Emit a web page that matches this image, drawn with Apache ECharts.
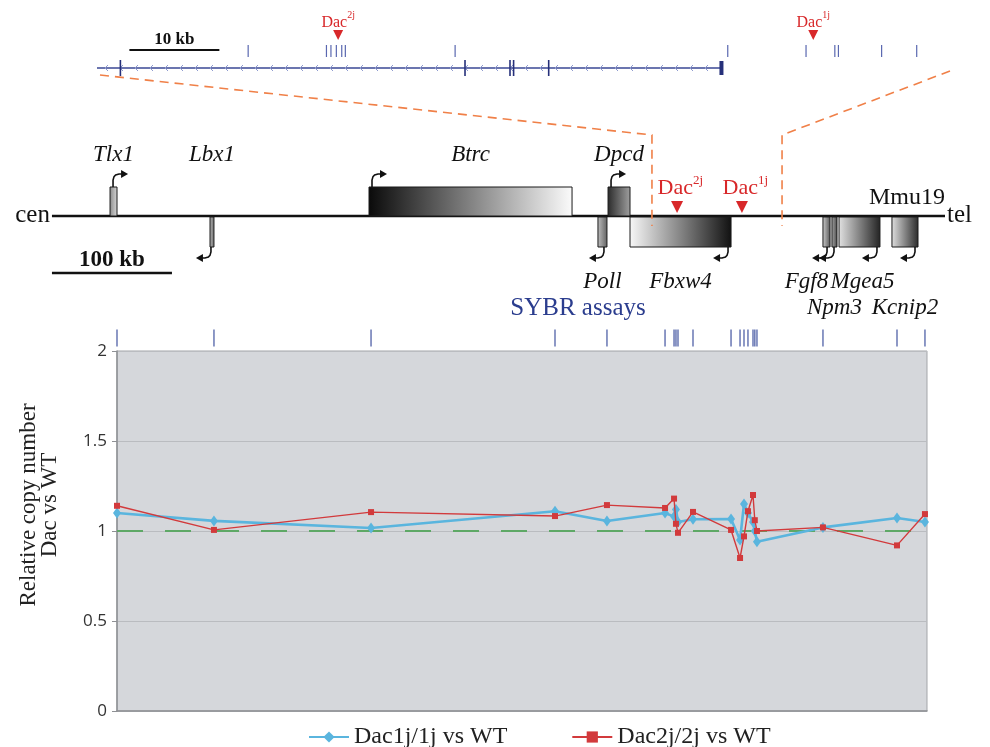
<!DOCTYPE html>
<html>
<head>
<meta charset="utf-8">
<script src="https://cdn.jsdelivr.net/npm/echarts@6.0.0/dist/echarts.min.js"></script>
<style>html,body{margin:0;padding:0;background:#fff;}#chart{width:990px;height:747px;}</style>
</head>
<body>
<div id="chart"></div>
<script>
// ---------------- data ----------------
const seriesNames = ['Dac1j/1j vs WT', 'Dac2j/2j vs WT'];
// SYBR assay positions along the locus (kb from first assay)
const assayKb = [0, 80.8, 211.7, 365, 408.3, 456.7, 464.2, 465.8, 467.5, 480, 511.7, 519.2, 522.5, 525.8, 530, 531.5, 533.3, 588.3, 650, 673.3];
const dac1j   = [1.10, 1.056, 1.017, 1.11, 1.056, 1.10, 1.08, 1.12, 1.05, 1.065, 1.067, 0.95, 1.15, 1.10, 1.05, 1.00, 0.94, 1.02, 1.072, 1.05];
const dac2j   = [1.14, 1.006, 1.105, 1.083, 1.144, 1.128, 1.18, 1.04, 0.99, 1.106, 1.006, 0.85, 0.97, 1.11, 1.2, 1.06, 1.0, 1.02, 0.92, 1.094];
const wtLevel = 1;
const yTicks  = [0, 0.5, 1, 1.5, 2];
const xRangeKb = [0, 675];

// locus map (kb, same scale as the assay axis)
const geneNames  = ['Tlx1', 'Lbx1', 'Btrc', 'Dpcd', 'Poll', 'Fbxw4', 'Fgf8', 'Npm3', 'Mgea5', 'Kcnip2'];
const geneStart  = [-5.8, 77.5, 210.0, 409.2, 400.8, 427.5, 588.3, 595.8, 601.7, 645.8];
const geneEnd    = [0.0, 80.8, 379.2, 427.5, 408.3, 511.7, 594.2, 600.0, 635.8, 667.5];
const geneStrand = [1, -1, 1, 1, -1, -1, -1, -1, -1, -1];
const chromExtentKb = [-54.2, 690];
const dacAlleles = ['2j', '1j'];
const dacMainKb  = [466.7, 520.8];
const zoomWindowKb = [445.8, 554.2];
const scaleBarKb = [-54.2, 45.8];   // 100 kb

// zoomed Fbxw4 region (local kb)
const topRangeKb = [0, 94.8];
const fbxw4ExtentKb = [0, 69.4];
const fbxw4ExonKb = [2.6, 40.9, 45.9, 46.3, 50.2, 69.4];
const topAssayKb = [16.8, 25.5, 26.0, 26.6, 27.2, 27.6, 39.8, 70.1, 78.8, 82.0, 82.4, 87.2, 91.1];
const dacLocalKb = [26.8, 79.6];
const topScaleKb = [3.6, 13.6];     // 10 kb

// ---------------- layout / look ----------------
const MAIN = {left: 117, top: 351, width: 810, height: 360};
const GENE = {left: 117, top: 116, width: 810, height: 100};
const TOP  = {left: 97, top: 20, width: 853, height: 48};
const SERIF = '"Liberation Serif", "Times New Roman", serif';
const RED = '#d8282a';

const geneLook = {
  Tlx1:   {c: ['#8a8a8a', '#d8d8d8'], row: 0},
  Lbx1:   {c: ['#b0b0b0', '#707070'], row: 0},
  Btrc:   {c: ['#0a0a0a', '#fbfbfb'], row: 0},
  Dpcd:   {c: ['#2a2a2a', '#a0a0a0'], row: 0},
  Poll:   {c: ['#c0c0c0', '#606060'], row: 1},
  Fbxw4:  {c: ['#f8f8f8', '#111111'], row: 1},
  Fgf8:   {c: ['#cfcfcf', '#555555'], row: 1, dx: -20},
  Npm3:   {c: ['#aaaaaa', '#444444'], row: 2},
  Mgea5:  {c: ['#e2e2e2', '#222222'], row: 1, dx: 3},
  Kcnip2: {c: ['#e0e0e0', '#2a2a2a'], row: 2}
};

function curvedArrow(ax, fromY, turnY, dir, color) {
  const s = turnY < fromY ? 1 : -1;
  const pts = [[ax, fromY], [ax, turnY + 6 * s], [ax + 1 * dir, turnY + 2.6 * s], [ax + 2.6 * dir, turnY + 1 * s], [ax + 6 * dir, turnY], [ax + 9 * dir, turnY]];
  return [
    {type: 'polyline', shape: {points: pts}, style: {fill: null, stroke: color, lineWidth: 1.6}},
    {type: 'polygon', shape: {points: [[ax + 8 * dir, turnY - 4], [ax + 15 * dir, turnY], [ax + 8 * dir, turnY + 4]]}, style: {fill: color}}
  ];
}

function renderChrom(params, api) {
  const a = api.coord([api.value(0), 0]), b = api.coord([api.value(1), 0]);
  const y = a[1];
  return {type: 'group', children: [
    {type: 'line', shape: {x1: a[0], y1: y, x2: b[0], y2: y}, style: {stroke: '#111', lineWidth: 2.6}},
    {type: 'text', style: {text: 'cen', x: a[0] - 2, y: y - 1, align: 'right', verticalAlign: 'middle', font: '25px ' + SERIF, fill: '#111'}},
    {type: 'text', style: {text: 'tel', x: b[0] + 2, y: y - 1, align: 'left', verticalAlign: 'middle', font: '25px ' + SERIF, fill: '#111'}},
    {type: 'text', style: {text: 'Mmu19', x: b[0] - 38, y: y - 18, align: 'center', verticalAlign: 'middle', font: '24px ' + SERIF, fill: '#111'}}
  ]};
}

function renderGene(params, api) {
  const i = api.value(3);
  const name = geneNames[i];
  const strand = api.value(2);
  const a = api.coord([api.value(0), 0]);
  const b = api.coord([api.value(1), 0]);
  const y0 = a[1];
  const x0 = a[0], x1 = b[0];
  const w = Math.max(x1 - x0, 3);
  const st = geneLook[name];
  const fill = new echarts.graphic.LinearGradient(0, 0, 1, 0, [{offset: 0, color: st.c[0]}, {offset: 1, color: st.c[1]}]);
  let children = [];
  if (strand > 0) {
    const H = 29;
    children.push({type: 'rect', shape: {x: x0, y: y0 - H, width: w, height: H}, style: {fill: fill, stroke: '#1a1a1a', lineWidth: 1}});
    children = children.concat(curvedArrow(x0 + 3, y0 - H, y0 - 42, 1, '#111'));
  } else {
    const H = 30;
    children.push({type: 'rect', shape: {x: x0, y: y0 + 1, width: w, height: H}, style: {fill: fill, stroke: '#1a1a1a', lineWidth: 1}});
    children = children.concat(curvedArrow(x0 + w - 3, y0 + 1 + H, y0 + 42, -1, '#111'));
  }
  const lx = x0 + w / 2 + (st.dx || 0);
  const ly = st.row === 0 ? y0 - 61 : (st.row === 1 ? y0 + 66 : y0 + 92);
  children.push({type: 'text', style: {text: name, x: lx, y: ly, align: 'center', verticalAlign: 'middle', font: 'italic 23px ' + SERIF, fill: '#111'}});
  return {type: 'group', children: children};
}

function dacMark(x, y0, tri, txtY, supY, fs, sfs, gap) {
  return [
    {type: 'polygon', shape: {points: [[x - tri / 2, y0 - tri - 3], [x + tri / 2, y0 - tri - 3], [x, y0 - 3]]}, style: {fill: RED}},
    {type: 'text', style: {text: 'Dac', x: x + gap, y: txtY, align: 'right', verticalAlign: 'middle', font: fs + 'px ' + SERIF, fill: RED}},
    {type: 'text', style: {text: '', x: x + gap, y: supY, align: 'left', verticalAlign: 'middle', font: sfs + 'px ' + SERIF, fill: RED}}
  ];
}

function renderDacMain(params, api) {
  const p = api.coord([api.value(0), 0]);
  const parts = dacMark(p[0], p[1], 12, p[1] - 28, p[1] - 35, 22, 13, 16);
  parts[2].style.text = dacAlleles[api.value(1)];
  return {type: 'group', children: parts};
}

function renderScaleMain(params, api) {
  const a = api.coord([api.value(0), 0]), b = api.coord([api.value(1), 0]);
  const y = a[1] + 57;
  return {type: 'group', children: [
    {type: 'line', shape: {x1: a[0], y1: y, x2: b[0], y2: y}, style: {stroke: '#111', lineWidth: 2.5}},
    {type: 'text', style: {text: (api.value(1) - api.value(0)).toFixed(0) + ' kb', x: (a[0] + b[0]) / 2, y: y - 13, align: 'center', verticalAlign: 'middle', font: 'bold 23px ' + SERIF, fill: '#111'}}
  ]};
}

function renderZoomLinks(params, api) {
  const a = api.coord([api.value(0), 0]), b = api.coord([api.value(1), 0]);
  const y0 = a[1];
  const yTop = y0 - 81;
  const style = {stroke: '#f08048', lineWidth: 1.6, lineDash: [9, 6], fill: null};
  return {type: 'group', children: [
    {type: 'polyline', shape: {points: [[TOP.left + 3, TOP.top + TOP.height + 7], [a[0], yTop], [a[0], y0 + 10]]}, style: style},
    {type: 'polyline', shape: {points: [[TOP.left + TOP.width, TOP.top + TOP.height + 3], [b[0], yTop], [b[0], y0 + 10]]}, style: style}
  ]};
}

function renderTopTranscript(params, api) {
  const a = api.coord([api.value(0), 0]), b = api.coord([api.value(1), 0]);
  const y = a[1];
  const children = [{type: 'line', shape: {x1: a[0], y1: y, x2: b[0], y2: y}, style: {stroke: '#3a4794', lineWidth: 1.5}}];
  for (let x = a[0] + 8; x < b[0] - 6; x += 15) {
    children.push({type: 'polyline', shape: {points: [[x + 3, y - 3], [x, y], [x + 3, y + 3]]}, style: {fill: null, stroke: '#8f9bd0', lineWidth: 1}});
  }
  return {type: 'group', children: children};
}

function renderTopExon(params, api) {
  const p = api.coord([api.value(0), 0]);
  const last = params.dataIndex === params.dataInsideLength - 1;
  return {type: 'line', shape: {x1: p[0], y1: p[1] - (last ? 7 : 8), x2: p[0], y2: p[1] + (last ? 7 : 8)}, style: {stroke: '#26307a', lineWidth: last ? 4 : 1.6}};
}

function renderTopAssay(params, api) {
  const p = api.coord([api.value(0), 0]);
  return {type: 'line', shape: {x1: p[0], y1: p[1] - 23, x2: p[0], y2: p[1] - 11}, style: {stroke: '#5a68b0', lineWidth: 1.2}};
}

function renderTopDac(params, api) {
  const p = api.coord([api.value(0), 0]);
  const y0 = p[1] - 25;
  const parts = dacMark(p[0], y0, 10, p[1] - 45, p[1] - 53, 16, 10, 9);
  parts[2].style.text = dacAlleles[api.value(1)];
  return {type: 'group', children: parts};
}

function renderTopScale(params, api) {
  const a = api.coord([api.value(0), 0]), b = api.coord([api.value(1), 0]);
  const y = a[1] - 18;
  return {type: 'group', children: [
    {type: 'line', shape: {x1: a[0], y1: y, x2: b[0], y2: y}, style: {stroke: '#111', lineWidth: 2.2}},
    {type: 'text', style: {text: (api.value(1) - api.value(0)).toFixed(0) + ' kb', x: (a[0] + b[0]) / 2, y: y - 10, align: 'center', verticalAlign: 'middle', font: 'bold 17px ' + SERIF, fill: '#111'}}
  ]};
}

const chart = echarts.init(document.getElementById('chart'), null, {renderer: 'canvas'});

const hiddenX = (gi, range) => ({gridIndex: gi, type: 'value', min: range[0], max: range[1], show: false});
const hiddenY = (gi) => ({gridIndex: gi, type: 'value', min: 0, max: 1, show: false});

const option = {
  animation: false,
  backgroundColor: '#ffffff',
  grid: [
    Object.assign({show: true, backgroundColor: '#d5d7db', borderColor: '#a3a5a9', borderWidth: 1, outerBoundsMode: 'none'}, MAIN),
    Object.assign({show: false, outerBoundsMode: 'none'}, GENE),
    Object.assign({show: false, outerBoundsMode: 'none'}, TOP)
  ],
  xAxis: [
    {gridIndex: 0, type: 'value', min: xRangeKb[0], max: xRangeKb[1],
     axisLine: {show: true, onZero: false, lineStyle: {color: '#8e9094', width: 1.5}},
     axisTick: {show: false}, axisLabel: {show: false}, splitLine: {show: false}},
    hiddenX(1, xRangeKb),
    hiddenX(2, topRangeKb)
  ],
  yAxis: [
    {gridIndex: 0, type: 'value', min: yTicks[0], max: yTicks[yTicks.length - 1], interval: yTicks[1] - yTicks[0],
     axisLine: {show: true, lineStyle: {color: '#8e9094', width: 1.5}},
     axisTick: {show: true, length: 5, lineStyle: {color: '#8e9094'}},
     axisLabel: {color: '#333', fontSize: 17, fontFamily: '"Open Sans", sans-serif', margin: 10},
     splitLine: {show: true, lineStyle: {color: '#babcc0', width: 1}}},
    hiddenY(1),
    hiddenY(2)
  ],
  legend: {
    data: seriesNames, left: 303, top: 720, itemWidth: 40, itemHeight: 14, itemGap: 64,
    textStyle: {fontFamily: SERIF, fontSize: 24, color: '#222', padding: [0, 0, 0, 0]}
  },
  graphic: [
    {type: 'text', x: 39, y: 505, rotation: Math.PI / 2,
     style: {text: 'Relative copy number\nDac vs WT', align: 'center', verticalAlign: 'middle', font: '23px ' + SERIF, lineHeight: 21, fill: '#222'}},
    {type: 'text', x: 578, y: 308,
     style: {text: 'SYBR assays', align: 'center', verticalAlign: 'middle', font: '25px ' + SERIF, fill: '#2b3d8e'}}
  ],
  series: [
    {name: seriesNames[0], type: 'line', xAxisIndex: 0, yAxisIndex: 0,
     data: assayKb.map((x, i) => [x, dac1j[i]]),
     symbol: 'diamond', symbolSize: [8, 11], color: '#5ab5de',
     lineStyle: {width: 2.6, color: '#5ab5de'}, itemStyle: {color: '#5ab5de'}, z: 3,
     markLine: {silent: true, symbol: 'none', label: {show: false}, z: 2,
       lineStyle: {color: '#5ea866', type: [26, 22], width: 2},
       data: [{yAxis: wtLevel}]}},
    {name: seriesNames[1], type: 'line', xAxisIndex: 0, yAxisIndex: 0,
     data: assayKb.map((x, i) => [x, dac2j[i]]),
     symbol: 'rect', symbolSize: 6, color: '#d23a3c',
     lineStyle: {width: 1.4, color: '#d23a3c'}, itemStyle: {color: '#d23a3c'}, z: 4},
    {name: 'SYBR ticks', type: 'scatter', xAxisIndex: 0, yAxisIndex: 0, clip: false, silent: true,
     data: assayKb.map(x => [x, yTicks[yTicks.length - 1]]),
     symbol: 'rect', symbolSize: [1.6, 17], symbolOffset: [0, -13], itemStyle: {color: '#4e5fa6'}},
    {type: 'custom', xAxisIndex: 1, yAxisIndex: 1, silent: true, data: [chromExtentKb], renderItem: renderChrom, z: 2},
    {type: 'custom', xAxisIndex: 1, yAxisIndex: 1, silent: true,
     data: geneNames.map((n, i) => [geneStart[i], geneEnd[i], geneStrand[i], i]), renderItem: renderGene, z: 3},
    {type: 'custom', xAxisIndex: 1, yAxisIndex: 1, silent: true,
     data: dacMainKb.map((x, i) => [x, i]), renderItem: renderDacMain, z: 6},
    {type: 'custom', xAxisIndex: 1, yAxisIndex: 1, silent: true, data: [scaleBarKb], renderItem: renderScaleMain},
    {type: 'custom', xAxisIndex: 1, yAxisIndex: 1, silent: true, data: [zoomWindowKb], renderItem: renderZoomLinks, z: 5},
    {type: 'custom', xAxisIndex: 2, yAxisIndex: 2, silent: true, data: [fbxw4ExtentKb], renderItem: renderTopTranscript},
    {type: 'custom', xAxisIndex: 2, yAxisIndex: 2, silent: true, data: fbxw4ExonKb.map(x => [x, 0]), renderItem: renderTopExon},
    {type: 'custom', xAxisIndex: 2, yAxisIndex: 2, silent: true, data: topAssayKb.map(x => [x, 0]), renderItem: renderTopAssay},
    {type: 'custom', xAxisIndex: 2, yAxisIndex: 2, silent: true, data: dacLocalKb.map((x, i) => [x, i]), renderItem: renderTopDac},
    {type: 'custom', xAxisIndex: 2, yAxisIndex: 2, silent: true, data: [topScaleKb], renderItem: renderTopScale}
  ]
};
chart.setOption(option);
</script>
</body>
</html>
